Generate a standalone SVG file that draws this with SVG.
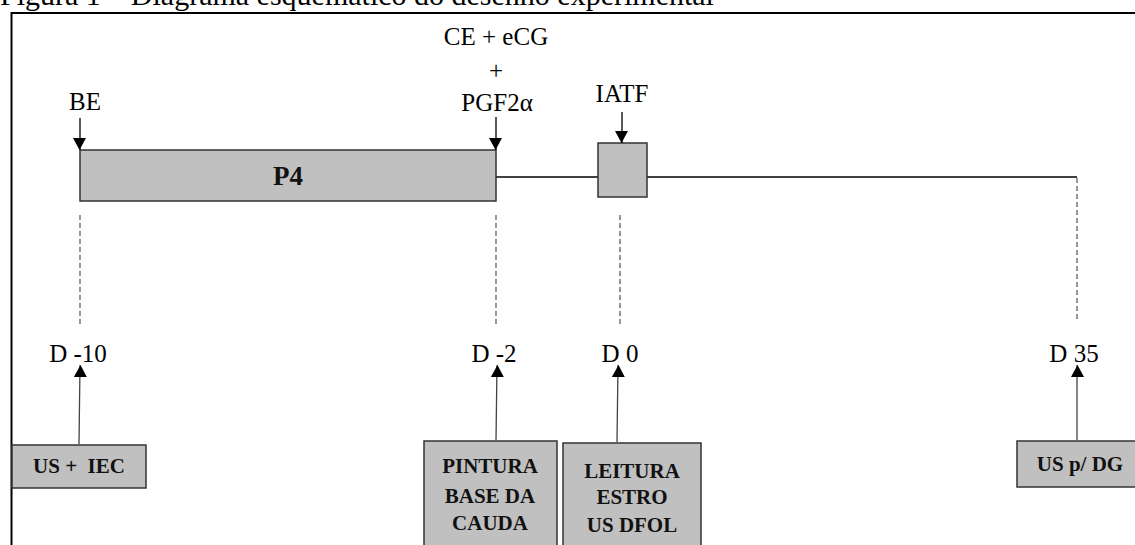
<svg xmlns="http://www.w3.org/2000/svg" width="1135" height="545" viewBox="0 0 1135 545">
<style>
.lbl{font-family:"Liberation Serif","Times New Roman",serif;font-size:25px;fill:#000;text-anchor:middle}
.bx{font-family:"Liberation Serif","Times New Roman",serif;font-size:21px;font-weight:bold;fill:#111;text-anchor:middle}
.box{fill:#c0c0c0;stroke:#333;stroke-width:1.5}
.dash{stroke:#555;stroke-width:1.2;stroke-dasharray:5 3;fill:none}
.arr{stroke:#000;stroke-width:1.3;fill:none}
.up{stroke:#444;stroke-width:1.3;fill:none}
</style>
<defs>
<marker id="ah" viewBox="0 0 12 13" refX="12" refY="6" markerWidth="12" markerHeight="13" markerUnits="userSpaceOnUse" orient="auto">
<path d="M0,0 L12,6.5 L0,13 Z" fill="#000"/>
</marker>
</defs>
<rect width="1135" height="545" fill="#fff"/>
<text x="0" y="5" font-family="Liberation Serif, serif" font-size="30" fill="#000">Figura 1 – Diagrama esquemático do desenho experimental</text>
<rect x="11.5" y="13" width="1200" height="600" fill="none" stroke="#000" stroke-width="2"/>

<g id="timeline">
<line x1="496" y1="177" x2="1077" y2="177" stroke="#000" stroke-width="1.5"/>
</g>
<g id="p4">
<rect class="box" x="80" y="150" width="416" height="51"/>
<text x="288" y="185" font-family="Liberation Serif, serif" font-size="27" font-weight="bold" text-anchor="middle" fill="#111">P4</text>
</g>
<g id="iatf">
<rect class="box" x="598" y="143" width="49" height="54"/>
<text class="lbl" x="622" y="102">IATF</text>
</g>
<g id="be"><text class="lbl" x="85" y="110">BE</text></g>
<g id="ce">
<text class="lbl" x="496" y="45">CE + eCG</text>
<text class="lbl" x="496" y="79">+</text>
<text class="lbl" x="497" y="111">PGF2α</text>
</g>
<g id="d10"><text class="lbl" x="78" y="362">D -10</text></g>
<g id="d2"><text class="lbl" x="494" y="362">D -2</text></g>
<g id="d0"><text class="lbl" x="620" y="362">D 0</text></g>
<g id="d35"><text class="lbl" x="1074" y="362">D 35</text></g>

<g id="n-usiec">
<rect class="box" x="12" y="445" width="134" height="43"/>
<text class="bx" x="79" y="473" xml:space="preserve">US +  IEC</text>
</g>
<g id="n-pintura">
<rect class="box" x="424" y="441" width="133" height="130"/>
<text class="bx" x="490" y="473">PINTURA</text>
<text class="bx" x="490" y="503">BASE DA</text>
<text class="bx" x="490" y="530">CAUDA</text>
</g>
<g id="n-leitura">
<rect class="box" x="563" y="443" width="138" height="130"/>
<text class="bx" x="632" y="478">LEITURA</text>
<text class="bx" x="632" y="504">ESTRO</text>
<text class="bx" x="632" y="532">US DFOL</text>
</g>
<g id="n-usdg">
<rect class="box" x="1017" y="441" width="140" height="46"/>
<text class="bx" x="1080" y="471">US p/ DG</text>
</g>

<g id="connectors">
<line class="arr" x1="80" y1="118" x2="80" y2="150" marker-end="url(#ah)"/>
<line class="arr" x1="496" y1="117" x2="496" y2="150" marker-end="url(#ah)"/>
<line class="arr" x1="622" y1="112" x2="622" y2="143" marker-end="url(#ah)"/>
<line class="dash" x1="80" y1="215" x2="80" y2="325"/>
<line class="dash" x1="496" y1="215" x2="496" y2="325"/>
<line class="dash" x1="620" y1="215" x2="620" y2="325"/>
<line class="dash" x1="1077" y1="178" x2="1077" y2="322"/>
<line class="up" x1="79" y1="444" x2="80" y2="365" marker-end="url(#ah)"/>
<line class="up" x1="496" y1="440" x2="497" y2="365" marker-end="url(#ah)"/>
<line class="up" x1="617" y1="442" x2="618" y2="365" marker-end="url(#ah)"/>
<line class="up" x1="1077" y1="440" x2="1077" y2="365" marker-end="url(#ah)"/>
</g>
</svg>
